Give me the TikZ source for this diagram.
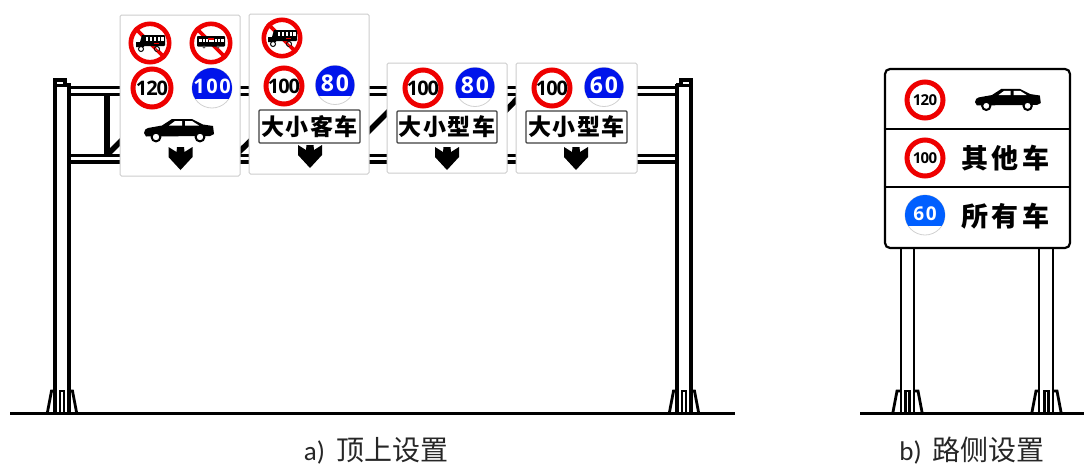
\documentclass[tikz,border=0pt]{standalone}
\usepackage{fontspec}
\setmainfont{Carlito}
\newfontfamily\cjk{Noto Sans CJK SC}
\newfontfamily\numf{Open Sans}
\definecolor{ringred}{RGB}{238,0,0}
\definecolor{signblue}{RGB}{0,20,235}
\definecolor{signblueb}{RGB}{0,95,255}
\definecolor{edgegray}{RGB}{205,205,205}
\tikzset{
  x=1pt,y=-1pt,
  bar/.style={line width=3.4pt,black},
  thinbar/.style={line width=2.8pt,black},
  brace/.style={line width=5.5pt,black},
  ground/.style={line width=3pt,black},
  panel/.style={draw=edgegray,line width=1pt,fill=white,rounded corners=1.5pt},
  plate/.style={draw=black!75,line width=1.1pt,fill=white,rounded corners=1pt},
  platetxt/.style={font=\cjk\bfseries\fontsize{23}{23}\selectfont,inner sep=0pt,text=black},
  bigtxt/.style={font=\cjk\bfseries\fontsize{27}{27}\selectfont,inner sep=0pt,text=black},
  captxt/.style={inner sep=0pt,anchor=base,text=black!85},
}
\newcommand{\SpeedSign}[6]{%
  \fill[white] (#1,#2) circle (#3);
  \draw[ringred,line width=5pt] (#1,#2) circle ({#3-2.5});
  \node[inner sep=0pt,text=black] (#6) at (#1,#2) {\numf\fontsize{#5}{#5}\selectfont\bfseries\addfontfeature{LetterSpace=-5}#4};
}
\newcommand{\BlueSign}[7]{%
  \fill[white] (#1,#2) circle (#3);
  \draw[black!18,line width=0.8pt] (#1,#2) circle (#3);
  \begin{scope}
    \clip (#1-#3-1,#2-#3-1) rectangle (#1+#3+1,#2+#3*0.53);
    \fill[#7] (#1,#2) circle (#3);
  \end{scope}
  \node[inner sep=0pt,text=white] (#6) at (#1,#2-1.5) {\numf\bfseries\fontsize{#5}{#5}\selectfont\addfontfeature{LetterSpace=8}#4};
}
\newcommand{\DownArrow}[2]{%
  \fill[black,shift={(#1,#2)}] (-12,0) -- (-4,5) -- (-3.5,0) -- (3.5,0) -- (4,5) -- (12,0) -- (12,10) -- (0,23) -- (-12,10) -- cycle;
}
\newcommand{\Car}[3]{%
  \begin{scope}[shift={(#1,#2)},scale=#3]
    \fill[black] (0,15) .. controls (0,12) and (2,10.5) .. (4,10) -- (18,7.5) -- (28,1) -- (48,1) -- (59,6.5) -- (69,8) -- (70,16) -- (66,18) -- (2,18.5) -- cycle;
    \fill[white] (25,7.5) -- (31,3) -- (38,3) -- (38,7.5) -- cycle;
    \fill[white] (41,7.5) -- (41,3) -- (48,3) -- (55,7.5) -- cycle;
    \draw[black,fill=white,line width=2pt] (12,19) circle (4.4);
    \draw[black,fill=white,line width=2pt] (56,19) circle (4.4);
  \end{scope}
}
\newcommand{\TruckIcon}{%
  \fill[black,rounded corners=1pt] (-7,-8) -- (15,-8) -- (15,3) -- (-7,3) -- cycle;
  \fill[black] (-14,4) -- (-14,-1) -- (-10,-1) -- (-8,-8) -- (-6,-8) -- (-6,4) -- cycle;
  \foreach \wx in {-3,1,5,9,12.5}{\fill[white] (\wx-1.3,-6.5) rectangle (\wx+1.3,-2.5);}
  \fill[ringred] (4,0) rectangle (9,1);
  \draw[black,fill=white,line width=1pt] (-9,6) circle (2.5);
  \draw[black,fill=white,line width=1pt] (7,6) circle (2.5);
}
\newcommand{\BusIcon}{%
  \fill[black,rounded corners=0.8pt] (-14,-7) -- (14,-7) -- (14,3.5) -- (-14,3.5) -- cycle;
  \fill[white] (-12.5,-4) rectangle (12.5,-1.5);
  \foreach \wx in {-9,-6,-3,3,6,9}{\fill[black] (\wx-0.4,-4) rectangle (\wx+0.4,-1.5);}
  \fill[ringred] (-3,-4.6) rectangle (2.5,-3);
  \fill[black!65] (-7,4) circle (1.6) (7,4) circle (1.6);
}
\newcommand{\NoSign}[4]{%
  \begin{scope}[shift={(#1,#2)}]
    \fill[white] (0,0) circle (#3);
    \draw[ringred,line width=4.6pt] (0,0) circle ({#3-2.3});
    \draw[ringred,line width=3.6pt] (-0.707*#3,-0.707*#3) -- (0.707*#3,0.707*#3);
    #4
    \draw[ringred,line width=1.6pt] (0.25*#3,0.25*#3) -- (0.62*#3,0.62*#3);
  \end{scope}
}
\newcommand{\Foot}[1]{%
  \begin{scope}[shift={(#1,0)}]
    \draw[thinbar,line join=miter] (-14.5,412) -- (-10.5,391) -- (-7,391);
    \draw[thinbar,line join=miter] (14.5,412) -- (10.5,391) -- (7,391);
    \draw[thinbar] (-2,412) -- (-2,391) -- (2,391) -- (2,412);
  \end{scope}
}
\begin{document}
\begin{tikzpicture}
\useasboundingbox (0,0) rectangle (1084,466);
\fill[white] (0,0) rectangle (1084,466);
% gantry
\draw[ground] (10,413) -- (735,413);
\draw[bar] (68,87.5) -- (677,87.5) (68,94.5) -- (677,94.5);
\draw[bar] (68,155.5) -- (677,155.5) (68,162) -- (677,162);
\draw[brace] (107,94) -- (107,155);
\draw[brace] (107,155) -- (168,94);
\draw[brace] (236,155) -- (298,94);
\draw[brace] (345,155) -- (406,94);
\draw[brace] (462,155) -- (522,94);
\draw[bar] (55,412) -- (55,80) (69,412) -- (69,84);
\draw[bar] (677,412) -- (677,84) (691,412) -- (691,80);
\draw[bar,fill=white,line join=miter] (55,85.5) -- (55,80) -- (65,80) -- (65,85.5) -- cycle;
\draw[bar] (65,85) -- (70.5,85);
\draw[bar,fill=white,line join=miter] (691,85.5) -- (691,80) -- (681,80) -- (681,85.5) -- cycle;
\draw[bar] (681,85) -- (675.5,85);
\Foot{62}
\Foot{684}
% sign 1
\node[panel,minimum width=120pt,minimum height=161pt,inner sep=0pt] (signA) at (180,95.5) {};
\NoSign{150}{43}{21.5}{\TruckIcon}
\NoSign{211}{43}{21.5}{\BusIcon}
\SpeedSign{152}{88}{21.5}{120}{20}{spA}
\BlueSign{212}{88}{20}{100}{20}{minA}{signblue}
\Car{144}{118}{1}
\DownArrow{180.5}{147}
% sign 2
\node[panel,minimum width=120pt,minimum height=160pt,inner sep=0pt] (signB) at (309,94) {};
\NoSign{282}{38}{20.5}{\TruckIcon}
\SpeedSign{284}{86}{20.5}{100}{20}{spB}
\BlueSign{335}{85}{19.5}{80}{23}{minB}{signblue}
\node[plate,minimum width=101pt,minimum height=33pt,inner sep=0pt] (plateB) at (309.5,126.5) {};
\node[platetxt] (txtB) at (309.5,126.5) {大\kern1.5pt 小\kern1.5pt 客\kern1.5pt 车};
\DownArrow{310}{145}
% sign 3
\node[panel,minimum width=120pt,minimum height=110pt,inner sep=0pt] (signC) at (447,118) {};
\SpeedSign{423}{88}{20.5}{100}{20}{spC}
\BlueSign{475}{87}{19.5}{80}{23}{minC}{signblue}
\node[plate,minimum width=100pt,minimum height=32pt,inner sep=0pt] (plateC) at (447,127) {};
\node[platetxt] (txtC) at (447,127) {大\kern1.5pt 小\kern1.5pt 型\kern1.5pt 车};
\DownArrow{447}{147}
% sign 4
\node[panel,minimum width=121pt,minimum height=110pt,inner sep=0pt] (signD) at (576.5,118) {};
\SpeedSign{552}{88}{20.5}{100}{20}{spD}
\BlueSign{604}{87}{19.5}{60}{23}{minD}{signblue}
\node[plate,minimum width=101pt,minimum height=32pt,inner sep=0pt] (plateD) at (576.5,127) {};
\node[platetxt] (txtD) at (576.5,127) {大\kern1.5pt 小\kern1.5pt 型\kern1.5pt 车};
\DownArrow{576}{147}
% roadside
\draw[ground] (860,413) -- (1084,413);
\draw[thinbar] (901,412) -- (901,248) (914,412) -- (914,248);
\draw[thinbar] (1039,412) -- (1039,248) (1053,412) -- (1053,248);
\Foot{907.5}
\Foot{1046.5}
\node[draw=black,line width=2.2pt,fill=white,rounded corners=5pt,minimum width=185pt,minimum height=179pt,inner sep=0pt] (board) at (977.5,158.5) {};
\draw[black,line width=1.8pt] (board.west |- 0,129) -- (board.east |- 0,129);
\draw[black,line width=1.8pt] (board.west |- 0,187) -- (board.east |- 0,187);
\SpeedSign{925}{100}{20.5}{120}{15}{spE}
\SpeedSign{925}{158}{20.5}{100}{15}{spF}
\BlueSign{925}{215}{20}{60}{19}{minE}{signblueb}
\Car{975}{88}{0.94}
\node[bigtxt] (txtE) at (1005.5,158) {其\kern3.5pt 他\kern3.5pt 车};
\node[bigtxt] (txtF) at (1005.5,216) {所\kern3.5pt 有\kern3.5pt 车};
% captions
\node[captxt] (capA) at (376,460) {\fontsize{27}{27}\selectfont a)\kern11pt{\cjk\fontsize{28}{28}\selectfont 顶上设置}};
\node[captxt] (capB) at (972,460) {\fontsize{27}{27}\selectfont b)\kern11pt{\cjk\fontsize{28}{28}\selectfont 路侧设置}};
\end{tikzpicture}
\end{document}
